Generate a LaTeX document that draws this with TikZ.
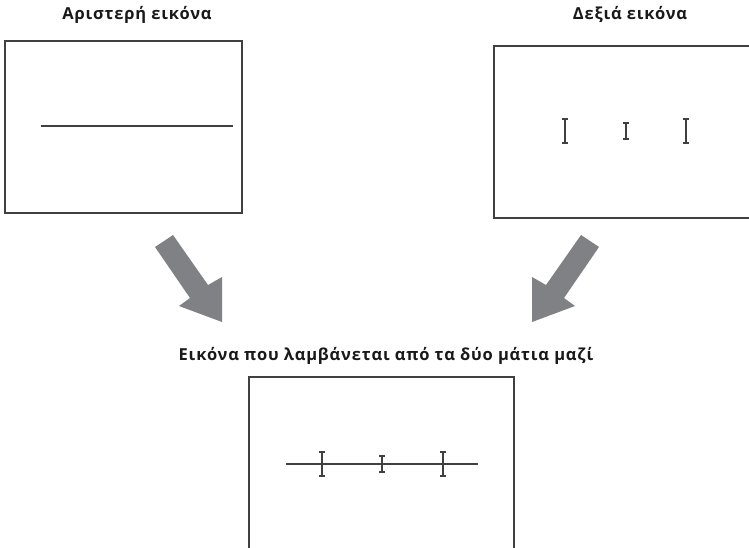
\documentclass[tikz,border=0pt]{standalone}
\usepackage{fontspec}
\setmainfont{Open Sans}[LetterSpace=5]
\definecolor{linegray}{RGB}{64,64,64}
\definecolor{arrowgray}{RGB}{128,129,133}
\tikzset{
  frame/.style={draw=linegray, line width=2pt},
  rule/.style={draw=linegray, line width=2pt},
  ibeam/.style={draw=linegray, line width=1.6pt},
  bigarrow/.style={fill=arrowgray, draw=none},
  title/.style={font=\bfseries\fontsize{16.5}{19}\selectfont, text=black!90, inner sep=0pt, anchor=base}
}
\newcommand{\ibeamat}[3]{% x, ytop, ybottom
  \draw[ibeam] (#1,#2) -- (#1,#3);
  \draw[ibeam] (#1-3,#2) -- (#1+3,#2);
  \draw[ibeam] (#1-3,#3) -- (#1+3,#3);
}
\begin{document}
\begin{tikzpicture}[x=1pt,y=-1pt]
\useasboundingbox (0,0) rectangle (749,548);
\clip (0,0) rectangle (749,548);
% titles
\node[title] (tleft) at (137,20) {Αριστερή εικόνα};
\node[title] (tright) at (630,20) {Δεξιά εικόνα};
\node[title] (tbottom) at (386,360) {Εικόνα που λαμβάνεται από τα δύο μάτια μαζί};
% left box
\draw[frame] (5,41) rectangle (242,213);
\draw[rule] (41,126.5) -- (233,126.5);
% right box
\draw[frame] (760,46) -- (494,46) -- (494,218) -- (760,218);
\ibeamat{565}{119}{143}
\ibeamat{626}{123}{139}
\ibeamat{686}{119}{143}
% bottom box
\draw[frame] (249,560) -- (249,377) -- (514,377) -- (514,560);
\draw[rule] (286,464) -- (478,464);
\ibeamat{322}{452}{476}
\ibeamat{382}{456}{472}
\ibeamat{443}{452}{476}
% arrows
\fill[bigarrow] (155,247) -- (190,298) -- (179,306) -- (222,322) -- (222,277) -- (208,285) -- (173,235) -- cycle;
\fill[bigarrow] (599,247) -- (564,298) -- (575,306) -- (532,322) -- (532,277) -- (546,285) -- (581,235) -- cycle;
\end{tikzpicture}
\end{document}
